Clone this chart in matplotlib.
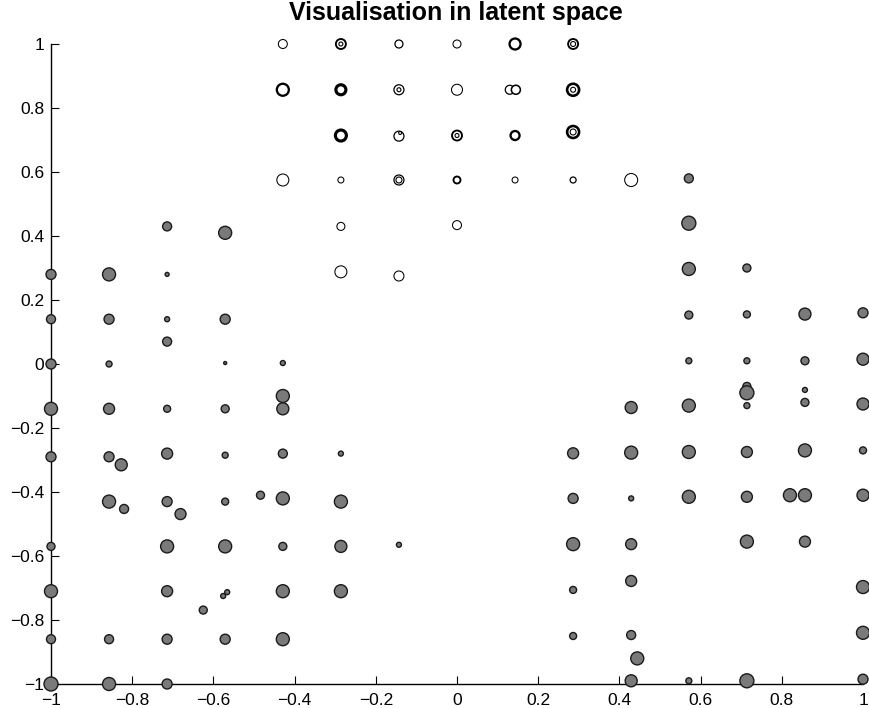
import numpy as np
import matplotlib
matplotlib.use('Agg')
import matplotlib.pyplot as plt

plt.rcParams['font.family'] = ['Liberation Sans', 'DejaVu Sans']

# filled (grey) points: x, y, radius in px
filled_x = [-1, -1, -1, -1, -1, -1, -1, -1, -1,
            -0.857, -0.857, -0.857, -0.857, -0.857, -0.857, -0.857, -0.857, -0.827, -0.82,
            -0.714, -0.714, -0.714, -0.714, -0.714, -0.714, -0.714, -0.714, -0.714, -0.714, -0.714, -0.681, -0.625,
            -0.571, -0.571, -0.571, -0.571, -0.571, -0.571, -0.571, -0.576, -0.566, -0.571,
            -0.429, -0.429, -0.429, -0.429, -0.429, -0.429, -0.429, -0.429, -0.484,
            -0.286, -0.286, -0.286, -0.286, -0.143,
            0.286, 0.286, 0.286, 0.286, 0.286,
            0.429, 0.429, 0.429, 0.429, 0.429, 0.429, 0.444, 0.429,
            0.571, 0.571, 0.571, 0.571, 0.571, 0.571, 0.571, 0.571, 0.571,
            0.714, 0.714, 0.714, 0.714, 0.714, 0.714, 0.714, 0.714, 0.714, 0.714,
            0.857, 0.857, 0.857, 0.857, 0.857, 0.857, 0.857, 0.82,
            1, 1, 1, 1, 1, 1, 1, 1]
filled_y = [0.28, 0.14, 0.0, -0.14, -0.29, -0.57, -0.71, -0.86, -1,
            0.28, 0.14, 0.0, -0.14, -0.29, -0.43, -0.86, -1, -0.315, -0.453,
            0.43, 0.28, 0.14, 0.07, -0.14, -0.28, -0.43, -0.57, -0.71, -0.86, -1, -0.469, -0.769,
            0.41, 0.14, 0.003, -0.14, -0.285, -0.43, -0.57, -0.725, -0.713, -0.86,
            0.003, -0.10, -0.14, -0.28, -0.42, -0.57, -0.71, -0.86, -0.41,
            -0.28, -0.43, -0.57, -0.71, -0.565,
            -0.279, -0.42, -0.563, -0.706, -0.85,
            -0.136, -0.277, -0.42, -0.563, -0.678, -0.847, -0.92, -0.99,
            0.58, 0.44, 0.297, 0.153, 0.01, -0.13, -0.275, -0.415, -0.99,
            0.30, 0.155, 0.01, -0.07, -0.09, -0.13, -0.275, -0.415, -0.555, -0.99,
            0.156, 0.01, -0.081, -0.12, -0.27, -0.41, -0.555, -0.41,
            0.16, 0.015, -0.125, -0.27, -0.41, -0.697, -0.84, -0.985]
filled_r = [5, 4.5, 5, 6.5, 5, 4, 6.5, 4.5, 7,
            6.5, 5, 3, 5.5, 5, 6.5, 4.5, 6.5, 6, 4.5,
            4.5, 2, 2.5, 4.5, 3.5, 5.5, 5, 6.5, 5.5, 5, 5, 5.5, 4,
            6.5, 5, 1.5, 4, 3, 3.5, 6.5, 2.5, 2.5, 5,
            2.5, 6.5, 6, 4.5, 6.5, 4, 6.5, 6.5, 4,
            2.5, 6.5, 6, 6.5, 2.5,
            5.5, 5, 6.5, 3.5, 3.5,
            6, 6.5, 2.5, 5.5, 5.5, 4.5, 6.5, 6,
            4.5, 7, 6.5, 4, 3, 6.5, 6.5, 6.5, 3,
            4, 3.5, 3, 4, 7, 3, 5.5, 5.5, 6.5, 7,
            6, 4, 2.5, 4, 6.5, 6.5, 5.5, 6.5,
            5, 6, 6, 3.5, 6, 6.5, 6.5, 5]

# open (white) circles: x, y, radius in px, ring thickness
open_x = [-0.429, -0.286, -0.143, 0, 0.143, 0.286,
          -0.429, -0.286, -0.143, 0, 0.13, 0.145, 0.286,
          -0.286, -0.143, 0, 0.143, 0.286,
          -0.429, -0.286, -0.143, 0, 0.143, 0.286, 0.429,
          -0.286, 0, -0.286, -0.143]
open_y = [1, 1, 1, 1, 1, 1,
          0.857, 0.857, 0.857, 0.857, 0.857, 0.857, 0.857,
          0.714, 0.712, 0.714, 0.714, 0.725,
          0.575, 0.575, 0.575, 0.575, 0.575, 0.575, 0.575,
          0.43, 0.434, 0.288, 0.275]
open_r = [4.5, 5, 4, 4, 5.5, 5,
          6, 5, 5, 5.5, 4.5, 4.5, 6,
          5.5, 5, 5, 4.5, 6,
          6, 3, 5, 3.5, 3, 3, 6.5,
          4, 4.5, 6, 5]
open_lw = [1.0, 1.8, 1.2, 1.0, 2.2, 1.8,
           2.2, 3.0, 1.2, 1.0, 1.2, 1.5, 2.5,
           3.0, 1.2, 1.8, 2.2, 2.5,
           1.0, 1.0, 1.2, 1.8, 1.0, 1.2, 1.0,
           1.0, 1.0, 1.0, 1.0]

# inner rings seen inside some open circles
inner_x = [-0.286, 0.286, -0.143, 0.286, -0.14, 0, 0.286, -0.143]
inner_y = [1, 1, 0.857, 0.857, 0.722, 0.714, 0.725, 0.575]
inner_r = [2, 2.5, 2, 2.5, 1.5, 2, 3, 3]

xticks = [-1, -0.8, -0.6, -0.4, -0.2, 0, 0.2, 0.4, 0.6, 0.8, 1]
yticks = [-1, -0.8, -0.6, -0.4, -0.2, 0, 0.2, 0.4, 0.6, 0.8, 1]
xticklabels = ['\u22121', '\u22120.8', '\u22120.6', '\u22120.4', '\u22120.2', '0', '0.2', '0.4', '0.6', '0.8', '1']
yticklabels = ['\u22121', '\u22120.8', '\u22120.6', '\u22120.4', '\u22120.2', '0', '0.2', '0.4', '0.6', '0.8', '1']

dpi = 100


def px_to_s(r):
    return (2 * np.asarray(r) * 72 / dpi) ** 2


fig = plt.figure(figsize=(8.69, 7.08), dpi=dpi)
ax = fig.add_axes([51 / 869, 24 / 708, 812 / 869, 640 / 708])

ax.scatter(filled_x, filled_y, s=px_to_s(filled_r), facecolor='#7a7a7a',
           edgecolor='#1a1a1a', linewidths=1.0, clip_on=False, zorder=3)
ax.scatter(open_x, open_y, s=px_to_s(open_r), facecolor='white',
           edgecolor='black', linewidths=np.array(open_lw) * 0.75, clip_on=False, zorder=3)
ax.scatter(inner_x, inner_y, s=px_to_s(inner_r), facecolor='none',
           edgecolor='black', linewidths=0.8, clip_on=False, zorder=4)

ax.set_xlim(-1, 1)
ax.set_ylim(-1, 1)
ax.set_xticks(xticks)
ax.set_xticklabels(xticklabels)
ax.set_yticks(yticks)
ax.set_yticklabels(yticklabels)
ax.tick_params(direction='in', length=5.5, width=0.8, labelsize=12.5)
ax.tick_params(axis='x', pad=6.5)
ax.tick_params(axis='y', pad=5)
ax.spines['top'].set_visible(False)
ax.spines['right'].set_visible(False)
for side in ['left', 'bottom']:
    ax.spines[side].set_linewidth(1.0)

fig.text(456 / 869, 1 - 20 / 708, 'Visualisation in latent space',
         fontsize=18, fontweight='bold', ha='center', va='baseline')

fig.savefig('out.png', dpi=dpi)
